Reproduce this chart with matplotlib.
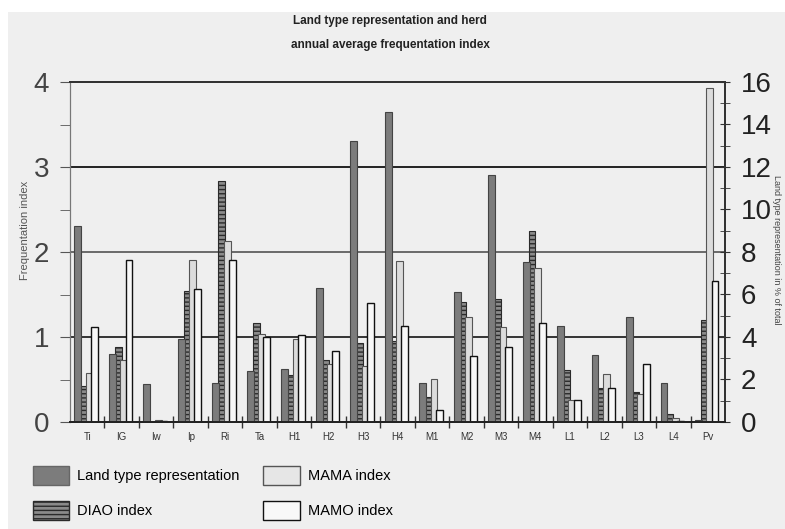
import numpy as np
import matplotlib
matplotlib.use('Agg')
import matplotlib.pyplot as plt
from matplotlib.patches import Patch, Rectangle

plt.rcParams['font.family'] = ['Liberation Sans', 'DejaVu Sans']

# land types along the x axis
land_types = ['Ti', 'IG', 'Iw', 'Ip', 'Ri', 'Ta', 'H1', 'H2', 'H3', 'H4',
              'M1', 'M2', 'M3', 'M4', 'L1', 'L2', 'L3', 'L4', 'Pv']

# land type representation, % of total (right axis)
land_pct = [9.2, 3.2, 1.8, 3.9, 1.85, 2.4, 2.5, 6.3, 13.2, 14.6,
            1.85, 6.1, 11.6, 7.55, 4.5, 3.15, 4.95, 1.85, 0.1]

# frequentation indexes (left axis)
diao = [0.42, 0.88, 0.0, 1.54, 2.84, 1.16, 0.55, 0.73, 0.93, 0.95,
        0.30, 1.41, 1.45, 2.25, 0.61, 0.40, 0.35, 0.09, 1.20]
mama = [0.58, 0.73, 0.02, 1.91, 2.13, 1.04, 0.98, 0.68, 0.66, 1.90,
        0.51, 1.24, 1.12, 1.81, 0.26, 0.57, 0.33, 0.05, 3.93]
mamo = [1.12, 1.91, 0.01, 1.56, 1.91, 1.00, 1.02, 0.84, 1.40, 1.13,
        0.14, 0.78, 0.88, 1.17, 0.26, 0.40, 0.68, 0.01, 1.66]

bg = '#efefef'
x = np.arange(len(land_types))
w = 0.2

fig = plt.figure(figsize=(7.85, 5.29), dpi=100)
fig.patch.set_facecolor('white')
fig.patches.append(Rectangle((8 / 785, 0), 1, 1 - 12 / 529, transform=fig.transFigure,
                             facecolor=bg, edgecolor='none', zorder=-10))

ax = fig.add_axes([70 / 785, 1 - 422 / 529, 655 / 785, 340 / 529])
ax.set_facecolor(bg)
ax2 = ax.twinx()

# reference lines
for v, c in [(1, '#333333'), (2, '#6a6a6a'), (3, '#222222')]:
    ax.axhline(v, color=c, lw=1.4, zorder=0)

ax2.bar(x - 0.27, land_pct, w, color='#7c7c7c', edgecolor='#444444', lw=0.8, zorder=2)
ax.bar(x - 0.10, diao, w, color='#8a8a8a', edgecolor='#2a2a2a', hatch='----', lw=0.8, zorder=2)
ax.bar(x + 0.06, mama, w, color='#dcdcdc', edgecolor='#555555', lw=0.8, zorder=3)
ax.bar(x + 0.21, mamo, w, color='#f8f8f8', edgecolor='#111111', lw=1.0, zorder=4)

ax.set_xlim(-0.5, len(land_types) - 0.5)
ax.set_ylim(0, 4)
ax2.set_ylim(0, 16)

ax.set_xticks(x)
ax.set_xticklabels(land_types, fontsize=7, color='#333333')
ax.set_xticks(x[:-1] + 0.5, minor=True)
ax.tick_params(axis='x', which='major', length=0, pad=7)
ax.tick_params(axis='x', which='minor', length=9, direction='inout', color='#333333', width=1)

ax.set_yticks([0, 1, 2, 3, 4])
ax.set_yticks(np.arange(0.5, 4, 1), minor=True)
ax.tick_params(axis='y', which='both', length=7, color='#555555', labelsize=20,
               labelcolor='#444444', pad=8)

ax2.set_yticks(range(0, 17, 2))
ax2.set_yticks(range(1, 16, 2), minor=True)
ax2.tick_params(axis='y', which='both', length=7, direction='inout', color='#333333',
                labelsize=20, labelcolor='#222222', pad=8)

for a in (ax, ax2):
    a.spines['left'].set_color('#777777')
    a.spines['right'].set_color('#333333')
    a.spines['right'].set_linewidth(1.4)
    a.spines['top'].set_color('#333333')
    a.spines['top'].set_linewidth(1.4)
    a.spines['bottom'].set_color('#222222')
    a.spines['bottom'].set_linewidth(1.4)

fig.text(390 / 785, 1 - 21 / 529, 'Land type representation and herd',
         ha='center', va='center', fontsize=8.5, fontweight='bold', color='#222222')
fig.text(390 / 785, 1 - 45 / 529, 'annual average frequentation index',
         ha='center', va='center', fontsize=8.5, fontweight='bold', color='#222222')
fig.text(25 / 785, 1 - 230 / 529, 'Frequentation index', rotation=90, ha='center', va='center',
         fontsize=8, color='#555555')
fig.text(777 / 785, 1 - 250 / 529, 'Land type representation in % of total', rotation=270,
         ha='center', va='center', fontsize=6.5, color='#444444')

handles = [Patch(facecolor='#7c7c7c', edgecolor='#666666'),
           Patch(facecolor='#8a8a8a', edgecolor='#2a2a2a', hatch='----'),
           Patch(facecolor='#e6e6e6', edgecolor='#555555'),
           Patch(facecolor='#f8f8f8', edgecolor='#111111')]
labels = ['Land type representation', 'DIAO index', 'MAMA index', 'MAMO index']
fig.legend(handles, labels, loc='upper left', bbox_to_anchor=(33 / 785, 1 - 466 / 529),
           ncol=2, frameon=False, borderpad=0, borderaxespad=0,
           handlelength=2.5, handleheight=1.65, handletextpad=0.55, labelspacing=1.05,
           columnspacing=1.6, prop={'size': 10.5})

fig.savefig('out.png', dpi=100, facecolor=fig.get_facecolor())
